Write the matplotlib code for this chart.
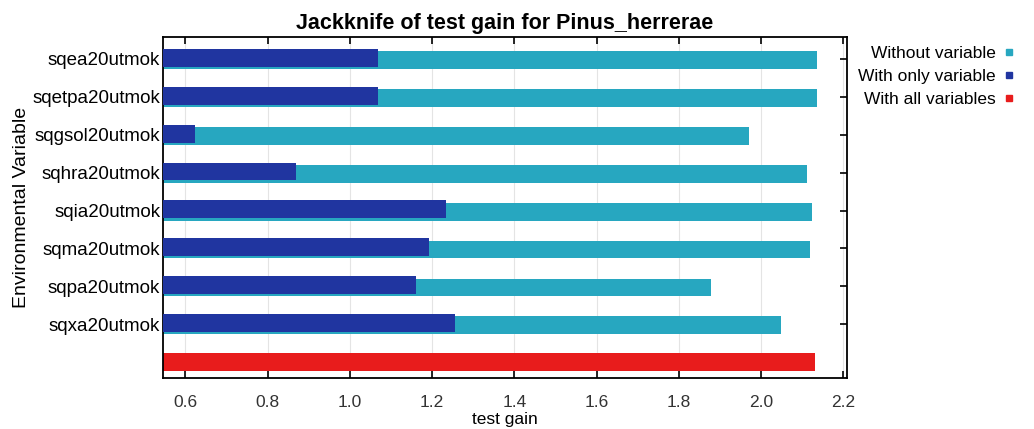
import numpy as np
import matplotlib.pyplot as plt
from matplotlib.lines import Line2D

plt.rcParams['font.family'] = ['Liberation Sans', 'DejaVu Sans']

# jackknife results (top to bottom)
variables = ['sqea20utmok', 'sqetpa20utmok', 'sqgsol20utmok', 'sqhra20utmok',
             'sqia20utmok', 'sqma20utmok', 'sqpa20utmok', 'sqxa20utmok']
without_var = [2.136, 2.135, 1.970, 2.113, 2.124, 2.120, 1.878, 2.048]
only_var = [1.069, 1.069, 0.623, 0.868, 1.235, 1.193, 1.162, 1.256]
all_vars = 2.132

c_without = '#27a7c0'
c_only = '#2035a0'
c_all = '#e81c1c'

fig = plt.figure(figsize=(10.34, 4.29), dpi=100)
ax = fig.add_axes([0.1576, 0.1189, 0.6615, 0.7949])

n = len(variables)
ypos = np.arange(n, 0, -1)  # variables from row n down to 1, all-variables at 0
h = 0.47

ax.barh(ypos - 0.03, without_var, height=h, color=c_without, zorder=2)
ax.barh(ypos + 0.03, only_var, height=h, color=c_only, zorder=3)
ax.barh([0], [all_vars], height=h, color=c_all, zorder=2)

ax.set_xlim(0.5455, 2.209)
ax.set_ylim(-0.42, n + 0.58)
ax.set_xticks(np.arange(0.6, 2.21, 0.2))
ax.set_xticklabels([f'{v:.1f}' for v in np.arange(0.6, 2.21, 0.2)])
ax.set_yticks(ypos)
ax.set_yticklabels(variables)
ax.grid(axis='x', color='#e4e4e4', linewidth=0.8, zorder=0)

ax.tick_params(axis='x', direction='in', top=True, length=5, width=1.2,
               labelsize=12.5, colors='black', pad=12)
ax.tick_params(axis='x', labelcolor='#333333')
ax.tick_params(axis='y', direction='in', right=True, length=5, width=1.2,
               labelsize=13.5, pad=2)
for s in ax.spines.values():
    s.set_linewidth(1.3)

ax.set_title('Jackknife of test gain for Pinus_herrerae', fontsize=15.5,
             fontweight='bold', pad=6)
ax.set_xlabel('test gain', fontsize=12.5, labelpad=2)
ax.set_ylabel('Environmental Variable', fontsize=14)
ax.yaxis.set_label_coords(-0.194, 0.5)

handles = [Line2D([], [], marker='s', linestyle='none', markersize=5, color=c)
           for c in (c_without, c_only, c_all)]
fig.legend(handles, ['Without variable', 'With only variable', 'With all variables'],
           loc='upper right', bbox_to_anchor=(0.989, 0.91), frameon=False,
           markerfirst=False, fontsize=12.5, handletextpad=0.35, labelspacing=0.45,
           handlelength=0.8, borderaxespad=0)

fig.savefig('out.png', dpi=100)
